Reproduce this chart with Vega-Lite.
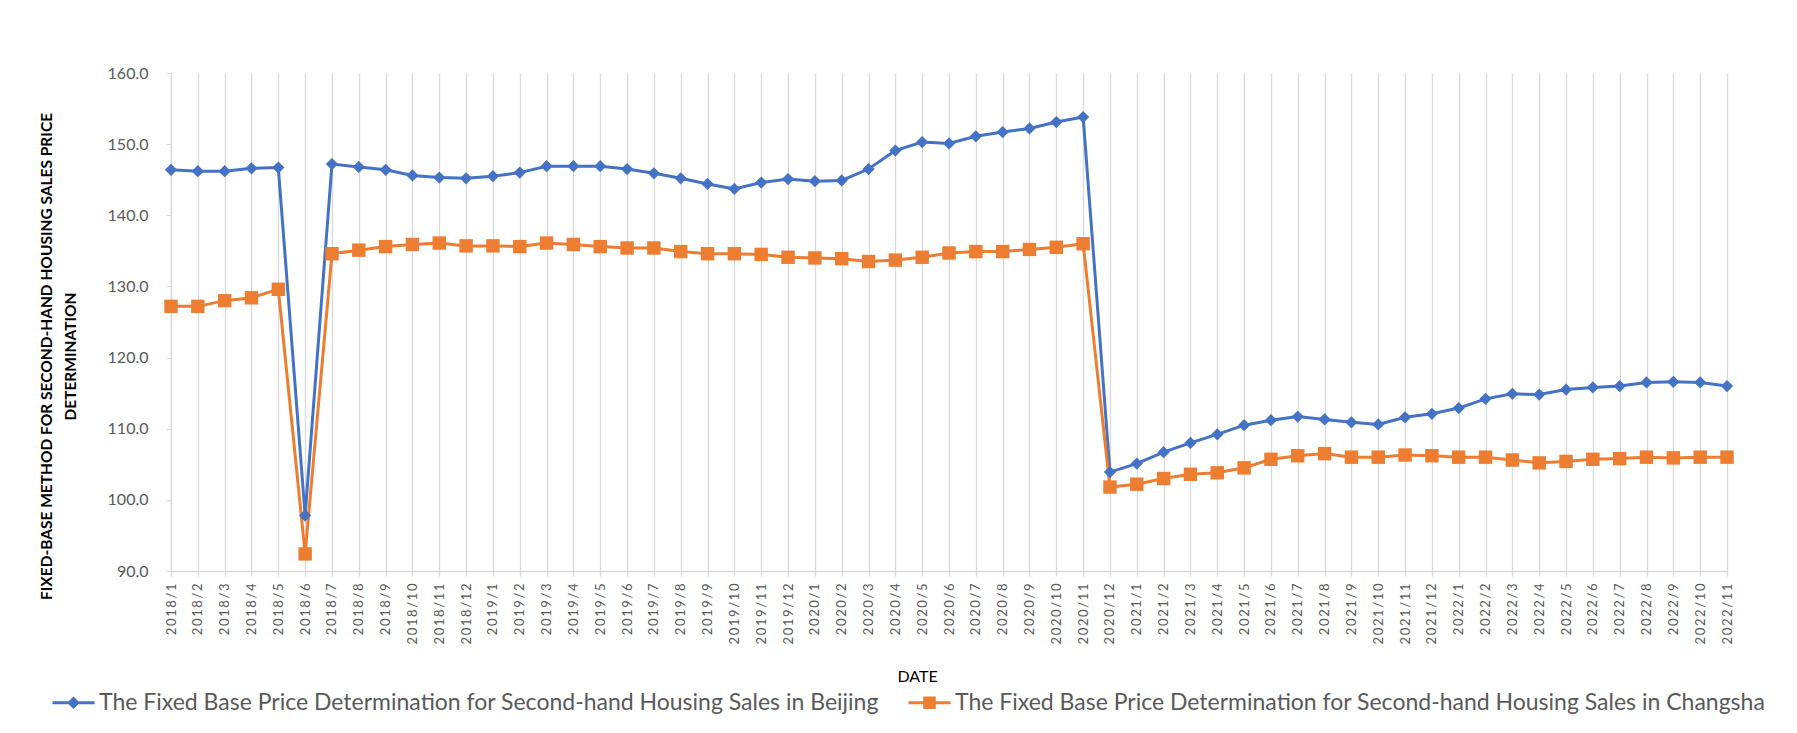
{
  "$schema": "https://vega.github.io/schema/vega-lite/v6.json",
  "width": 1556,
  "height": 498,
  "autosize": {"type": "none"},
  "padding": {"left": 171, "top": 73, "right": 70, "bottom": 162},
  "background": "white",
  "config": {
    "font": "Lato",
    "view": {"stroke": null},
    "axis": {
      "domainColor": "#D9D9D9",
      "domainWidth": 1.3,
      "tickColor": "#D9D9D9",
      "tickWidth": 1.3,
      "tickSize": 5,
      "labelColor": "#595959",
      "labelFont": "Lato",
      "titleFont": "Lato",
      "titleColor": "#000000"
    }
  },
  "data": {
    "values": [
      {"month": "2018/1", "Beijing": 146.4, "Changsha": 127.2},
      {"month": "2018/2", "Beijing": 146.2, "Changsha": 127.2},
      {"month": "2018/3", "Beijing": 146.2, "Changsha": 128.0},
      {"month": "2018/4", "Beijing": 146.6, "Changsha": 128.4},
      {"month": "2018/5", "Beijing": 146.7, "Changsha": 129.6},
      {"month": "2018/6", "Beijing": 97.8, "Changsha": 92.4},
      {"month": "2018/7", "Beijing": 147.2, "Changsha": 134.6},
      {"month": "2018/8", "Beijing": 146.8, "Changsha": 135.1},
      {"month": "2018/9", "Beijing": 146.4, "Changsha": 135.6},
      {"month": "2018/10", "Beijing": 145.6, "Changsha": 135.9},
      {"month": "2018/11", "Beijing": 145.3, "Changsha": 136.1},
      {"month": "2018/12", "Beijing": 145.2, "Changsha": 135.7},
      {"month": "2019/1", "Beijing": 145.5, "Changsha": 135.7},
      {"month": "2019/2", "Beijing": 146.0, "Changsha": 135.6},
      {"month": "2019/3", "Beijing": 146.9, "Changsha": 136.1},
      {"month": "2019/4", "Beijing": 146.9, "Changsha": 135.9},
      {"month": "2019/5", "Beijing": 146.9, "Changsha": 135.6},
      {"month": "2019/6", "Beijing": 146.5, "Changsha": 135.4},
      {"month": "2019/7", "Beijing": 145.9, "Changsha": 135.4},
      {"month": "2019/8", "Beijing": 145.2, "Changsha": 134.9},
      {"month": "2019/9", "Beijing": 144.4, "Changsha": 134.6},
      {"month": "2019/10", "Beijing": 143.7, "Changsha": 134.6},
      {"month": "2019/11", "Beijing": 144.6, "Changsha": 134.5},
      {"month": "2019/12", "Beijing": 145.1, "Changsha": 134.1},
      {"month": "2020/1", "Beijing": 144.8, "Changsha": 134.0},
      {"month": "2020/2", "Beijing": 144.9, "Changsha": 133.9},
      {"month": "2020/3", "Beijing": 146.5, "Changsha": 133.5},
      {"month": "2020/4", "Beijing": 149.1, "Changsha": 133.7},
      {"month": "2020/5", "Beijing": 150.3, "Changsha": 134.1},
      {"month": "2020/6", "Beijing": 150.1, "Changsha": 134.7},
      {"month": "2020/7", "Beijing": 151.1, "Changsha": 134.9},
      {"month": "2020/8", "Beijing": 151.7, "Changsha": 134.9},
      {"month": "2020/9", "Beijing": 152.2, "Changsha": 135.2},
      {"month": "2020/10", "Beijing": 153.1, "Changsha": 135.5},
      {"month": "2020/11", "Beijing": 153.8, "Changsha": 136.0},
      {"month": "2020/12", "Beijing": 103.9, "Changsha": 101.8},
      {"month": "2021/1", "Beijing": 105.1, "Changsha": 102.2},
      {"month": "2021/2", "Beijing": 106.7, "Changsha": 103.0},
      {"month": "2021/3", "Beijing": 108.0, "Changsha": 103.6},
      {"month": "2021/4", "Beijing": 109.2, "Changsha": 103.8},
      {"month": "2021/5", "Beijing": 110.5, "Changsha": 104.5},
      {"month": "2021/6", "Beijing": 111.2, "Changsha": 105.7},
      {"month": "2021/7", "Beijing": 111.7, "Changsha": 106.2},
      {"month": "2021/8", "Beijing": 111.3, "Changsha": 106.5},
      {"month": "2021/9", "Beijing": 110.9, "Changsha": 106.0},
      {"month": "2021/10", "Beijing": 110.6, "Changsha": 106.0},
      {"month": "2021/11", "Beijing": 111.6, "Changsha": 106.3},
      {"month": "2021/12", "Beijing": 112.1, "Changsha": 106.2},
      {"month": "2022/1", "Beijing": 112.9, "Changsha": 106.0},
      {"month": "2022/2", "Beijing": 114.2, "Changsha": 106.0},
      {"month": "2022/3", "Beijing": 114.9, "Changsha": 105.6},
      {"month": "2022/4", "Beijing": 114.8, "Changsha": 105.2},
      {"month": "2022/5", "Beijing": 115.5, "Changsha": 105.4},
      {"month": "2022/6", "Beijing": 115.8, "Changsha": 105.7},
      {"month": "2022/7", "Beijing": 116.0, "Changsha": 105.8},
      {"month": "2022/8", "Beijing": 116.5, "Changsha": 106.0},
      {"month": "2022/9", "Beijing": 116.6, "Changsha": 105.9},
      {"month": "2022/10", "Beijing": 116.5, "Changsha": 106.0},
      {"month": "2022/11", "Beijing": 116.0, "Changsha": 106.0}
    ]
  },
  "transform": [
    {"fold": ["Beijing", "Changsha"], "as": ["city", "value"]}
  ],
  "encoding": {
    "x": {
      "field": "month",
      "type": "ordinal",
      "sort": null,
      "scale": {"type": "point", "padding": 0},
      "axis": {
        "title": "DATE",
        "titleFontSize": 16,
        "titleFontWeight": "normal",
        "titleX": 746,
        "titleY": 105,
        "titleBaseline": "middle",
        "labelAngle": 270,
        "labelFontSize": 13,
        "labelPadding": 7,
        "labelExpr": "join(split(datum.label, ''), '\u2009')",
        "grid": true,
        "gridColor": "#D9D9D9",
        "gridWidth": 1.3,
        "labelOverlap": false
      }
    },
    "y": {
      "field": "value",
      "type": "quantitative",
      "scale": {"domain": [90, 160], "nice": false, "zero": false},
      "axis": {
        "values": [90, 100, 110, 120, 130, 140, 150, 160],
        "format": ".1f",
        "labelFontSize": 16,
        "labelPadding": 18,
        "grid": false,
        "title": ["FIXED-BASE METHOD FOR SECOND-HAND HOUSING SALES PRICE", "DETERMINATION"],
        "titleFontSize": 15.5,
        "titleFontWeight": "bold",
        "titleLineHeight": 24,
        "titleAngle": 270,
        "titleBaseline": "middle",
        "titleAlign": "center",
        "titleX": -125,
        "titleY": 283
      }
    },
    "color": {
      "field": "city",
      "type": "nominal",
      "scale": {"domain": ["Beijing", "Changsha"], "range": ["#4472C4", "#ED7D31"]},
      "legend": {
        "title": null,
        "orient": "none",
        "direction": "horizontal",
        "legendX": -109,
        "legendY": 618,
        "labelFont": "Lato",
        "labelFontSize": 23,
        "labelColor": "#595959",
        "labelLimit": 1000,
        "labelOffset": 14,
        "symbolSize": 196,
        "columnPadding": 29,
        "labelExpr": "'The Fixed Base Price Determination for Second-hand Housing Sales in ' + datum.label",
        "encode": {
          "symbols": {
            "update": {
              "shape": {"signal": "datum.value == 'Beijing' ? 'M-3,-0.2H3V0.2H-3Z M0,-0.9L0.9,0L0,0.9L-0.9,0Z' : 'M-3,-0.2H3V0.2H-3Z M-0.9,-0.9H0.9V0.9H-0.9Z'"},
              "fill": {"signal": "datum.value == 'Beijing' ? '#4472C4' : '#ED7D31'"},
              "strokeWidth": {"value": 0},
              "opacity": {"value": 1}
            }
          }
        }
      }
    }
  },
  "layer": [
    {
      "mark": {"type": "line", "strokeWidth": 3}
    },
    {
      "transform": [{"filter": "datum.city == 'Beijing'"}],
      "mark": {"type": "point", "shape": "diamond", "filled": true, "opacity": 1, "strokeWidth": 0, "size": 150}
    },
    {
      "transform": [{"filter": "datum.city == 'Changsha'"}],
      "mark": {"type": "point", "shape": "square", "filled": true, "opacity": 1, "strokeWidth": 0, "size": 180}
    }
  ]
}
